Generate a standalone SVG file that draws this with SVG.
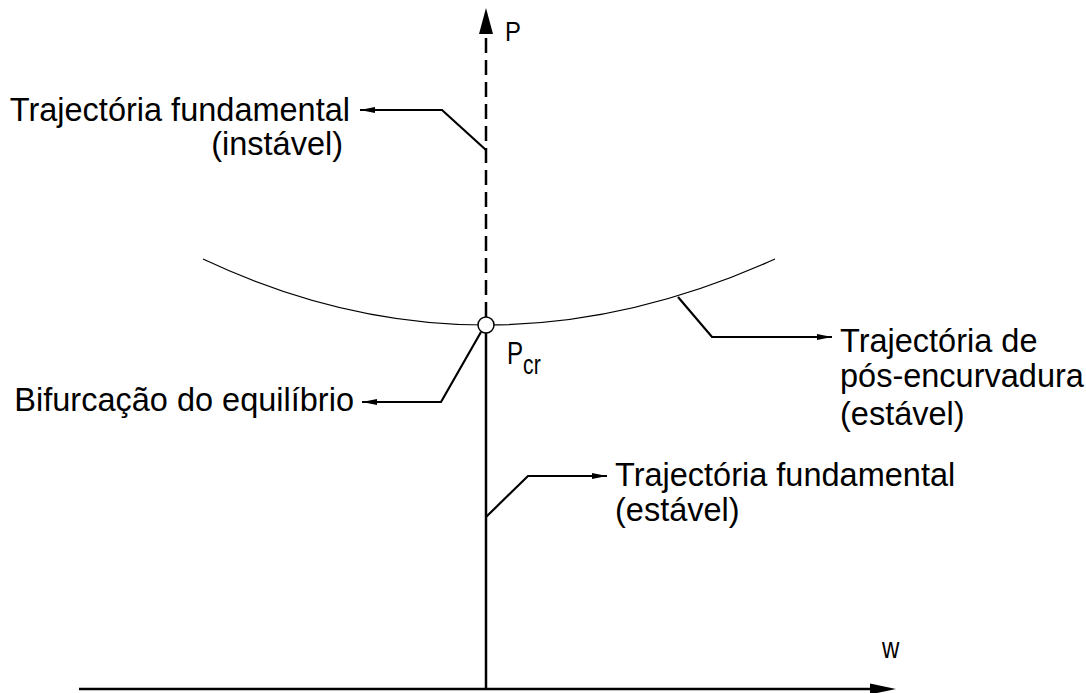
<svg xmlns="http://www.w3.org/2000/svg" width="1086" height="693" viewBox="0 0 1086 693">
<defs>
<marker id="ah" markerWidth="16" markerHeight="8" refX="15" refY="4" orient="auto" markerUnits="userSpaceOnUse">
<path d="M0,1 L15,4 L0,7 Z" fill="#000"/>
</marker>
</defs>
<style>
.t{font-family:"Liberation Sans",Arial,sans-serif;font-size:32.5px;fill:#000}
.lbl{font-family:"Liberation Sans",Arial,sans-serif;fill:#000}
.ld{fill:none;stroke:#000;stroke-width:2.2}
.ax{fill:none;stroke:#000;stroke-width:2.5}
</style>
<rect width="1086" height="693" fill="#fff"/>
<g id="axes">
<line class="ax" x1="486" y1="690" x2="486" y2="333"/>
<line class="ax" x1="486" y1="317" x2="486" y2="32" stroke-dasharray="15,7"/>
<path d="M486,8 L479,34 L493,34 Z" fill="#000"/>
<line class="ax" x1="79" y1="689" x2="872" y2="689"/>
<path d="M896,689 L870,683.5 L870,694.5 Z" fill="#000"/>
<text class="lbl" x="505" y="41" font-size="28" transform="translate(505,0) scale(0.85,1) translate(-505,0)">P</text>
<text class="lbl" x="882" y="658" font-size="30" transform="translate(882,0) scale(0.8,1) translate(-882,0)">w</text>
</g>
<g id="postbuckling-curve">
<path d="M203,259 Q483,391 775,259" fill="none" stroke="#000" stroke-width="1.2"/>
</g>
<g id="bifurcation-point">
<circle cx="486" cy="325" r="8" fill="#fff" stroke="#000" stroke-width="1.5"/>
<text class="lbl" x="507" y="364" font-size="31" transform="translate(507,0) scale(0.78,1) translate(-507,0)">P<tspan font-size="27" dy="10">cr</tspan></text>
</g>
<g id="connectors">
<polyline class="ld" points="486,150 442,110 360,110" marker-end="url(#ah)"/>
<polyline class="ld" points="481,332 441,402 362,402" marker-end="url(#ah)"/>
<polyline class="ld" points="678,297 712,337 832,337" marker-end="url(#ah)"/>
<polyline class="ld" points="486,517 528,476 607,476" marker-end="url(#ah)"/>
</g>
<g id="label-fundamental-unstable">
<text class="t" x="350" y="121" text-anchor="end">Trajectória fundamental</text>
<text class="t" x="343" y="155" text-anchor="end">(instável)</text>
</g>
<g id="label-bifurcation">
<text class="t" x="354" y="411" text-anchor="end">Bifurcação do equilíbrio</text>
</g>
<g id="label-postbuckling">
<text class="t" x="840" y="352">Trajectória de</text>
<text class="t" x="840" y="387">pós-encurvadura</text>
<text class="t" x="840" y="425">(estável)</text>
</g>
<g id="label-fundamental-stable">
<text class="t" x="615" y="486">Trajectória fundamental</text>
<text class="t" x="615" y="521">(estável)</text>
</g>
</svg>
